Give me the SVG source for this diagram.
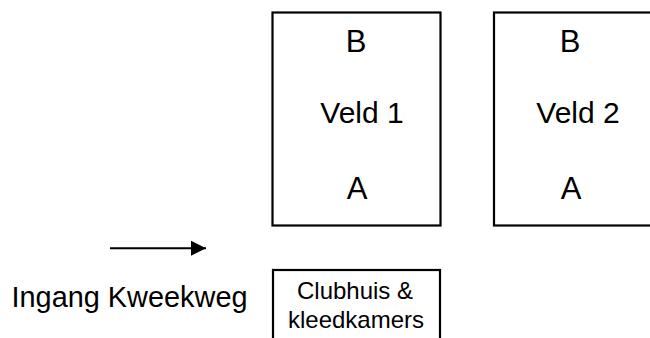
<svg xmlns="http://www.w3.org/2000/svg" width="650" height="338" viewBox="0 0 650 338">
<style>
.box{fill:#fff;stroke:#000;stroke-width:2.2}
text{font-family:"Liberation Sans",Arial,sans-serif;fill:#000;text-anchor:middle}
.big{font-size:31px}
.mid{font-size:30px}
.sm{font-size:24px}
</style>
<defs>
<marker id="ah" viewBox="0 0 10 10" refX="10" refY="5" markerWidth="7.5" markerHeight="8" markerUnits="strokeWidth" orient="auto">
<path d="M0,0 L10,5 L0,10 z" fill="#000"/>
</marker>
</defs>
<rect width="650" height="338" fill="#fff"/>
<g id="veld1">
<rect class="box" x="272.5" y="12.5" width="168" height="213"/>
<text class="big" x="356" y="52">B</text>
<text class="mid" x="362" y="123">Veld 1</text>
<text class="big" x="357" y="199">A</text>
</g>
<g id="veld2">
<rect class="box" x="494" y="12.5" width="200" height="213"/>
<text class="big" x="570" y="52">B</text>
<text class="mid" x="578" y="123">Veld 2</text>
<text class="big" x="571" y="199">A</text>
</g>
<g id="clubhuis">
<rect class="box" x="273" y="270" width="167" height="100"/>
<text class="sm" x="355" y="299">Clubhuis &amp;</text>
<text class="sm" x="356" y="328">kleedkamers</text>
</g>
<g id="ingang">
<text class="mid" x="129.5" y="307" textLength="236" lengthAdjust="spacingAndGlyphs">Ingang Kweekweg</text>
</g>
<g id="connectors">
<line x1="110" y1="248.3" x2="206" y2="248.3" stroke="#000" stroke-width="2" marker-end="url(#ah)"/>
</g>
</svg>
